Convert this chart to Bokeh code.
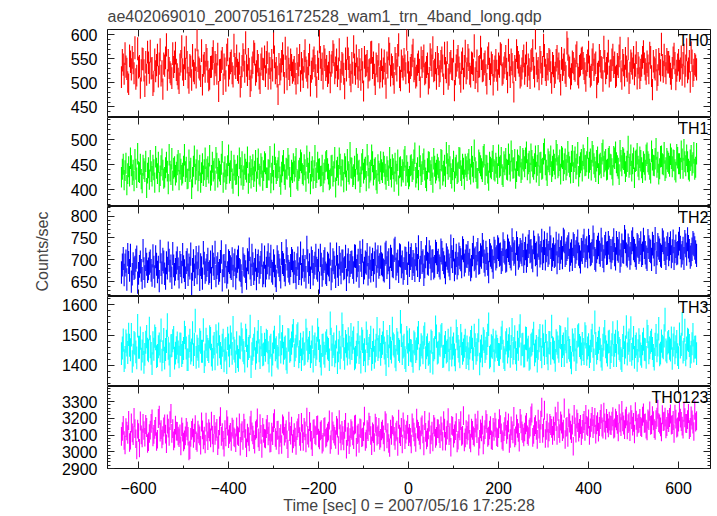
import numpy as np
from bokeh.plotting import figure
from bokeh.layouts import column
from bokeh.models import (SingleIntervalTicker, LinearAxis, Label, Range1d,
                          CustomJSTickFormatter)
from bokeh.embed import file_html
from bokeh.resources import INLINE

TITLE = "ae402069010_20070516172528_wam1_trn_4band_long.qdp"
XLABEL = "Time [sec] 0 = 2007/05/16 17:25:28"
YLABEL = "Counts/sec"

# light-curve bins: "even" bins start at -638 s, "odd" bins at -636 s, each every 4 s
even_start = -638.0
odd_start = -636.0
bin_step = 4.0

th0_even = [
    512, 538, 561, 529, 497, 544, 553, 520, 508, 571, 535, 526, 549, 493, 517, 542,
    566, 531, 503, 524, 558, 540, 515, 487, 536, 579, 547, 522, 510, 533, 562, 518,
    499, 545, 528, 552, 574, 511, 537, 506, 525, 548, 590, 532, 514, 496, 541, 557,
    523, 508, 534, 565, 543, 519, 482, 527, 551, 538, 504, 569, 530, 546, 513, 539,
    556, 521, 492, 535, 547, 583, 516, 529, 505, 542, 560, 524, 537, 499, 550, 528,
    514, 563, 540, 509, 526, 554, 531, 476, 518, 545, 536, 572, 507, 529, 548, 521,
    533, 498, 520, 557, 541, 512, 567, 525, 539, 494, 530, 552, 516, 544, 586, 527,
    509, 548, 535, 521, 501, 543, 558, 532, 514, 569, 523, 538, 488, 526, 550, 517,
    541, 575, 519, 530, 547, 506, 522, 553, 537, 511, 528, 564, 542, 497, 535, 559,
    524, 513, 546, 489, 532, 560, 538, 518, 551, 526, 579, 505, 534, 549, 520, 543,
    502, 537, 568, 529, 515, 544, 491, 533, 556, 521, 540, 511, 548, 573, 527, 508,
    539, 524, 552, 497, 531, 563, 517, 545, 528, 484, 536, 555, 519, 542, 509, 566,
    530, 548, 513, 540, 577, 522, 503, 535, 550, 526, 544, 498, 561, 518, 537, 525,
    547, 506, 534, 558, 520, 541, 529, 568, 512, 539, 481, 527, 553, 536, 515, 545,
    519, 562, 538, 510, 549, 531, 594, 524, 507, 543, 533, 557, 516, 528, 546, 500,
    535, 521, 555, 540, 496, 527, 548, 514, 570, 532, 518, 541, 525, 563, 511, 538,
    552, 529, 504, 546, 534, 517, 559, 538, 490, 523, 545, 531, 574, 520, 540, 513,
    526, 558, 542, 515, 533, 572, 508, 537, 551, 525, 499, 546, 530, 518, 563, 541,
    510, 536, 565, 528, 544, 520, 553, 486, 532, 547, 516, 539, 580, 523, 535, 549,
    543, 519, 531, 560, 507, 538, 525, 554, 541, 513, 569, 530, 502, 546, 527, 536,
]
th0_odd = [
    547, 519, 534, 502, 556, 528, 541, 573, 515, 532, 489, 550, 526, 543, 564, 521,
    530, 495, 548, 537, 513, 569, 524, 540, 552, 506, 531, 518, 561, 544, 527, 509,
    538, 575, 516, 529, 543, 500, 534, 557, 520, 511, 546, 528, 567, 536, 523, 549,
    505, 533, 551, 518, 537, 560, 526, 544, 497, 530, 558, 515, 541, 520, 578, 531,
    527, 540, 512, 559, 523, 536, 549, 493, 532, 565, 517, 545, 509, 538, 529, 554,
    543, 508, 531, 547, 585, 520, 513, 539, 528, 561, 500, 534, 552, 516, 537, 526,
    519, 550, 537, 504, 528, 545, 532, 511, 558, 523, 546, 535, 491, 529, 553, 540,
    555, 527, 514, 543, 536, 565, 520, 548, 530, 507, 541, 519, 550, 572, 533, 503,
    521, 538, 556, 512, 528, 549, 483, 535, 545, 526, 563, 531, 517, 540, 524, 511,
    548, 530, 519, 542, 571, 515, 533, 500, 539, 557, 512, 546, 528, 536, 591, 522,
    531, 556, 524, 511, 538, 527, 552, 545, 518, 533, 498, 559, 536, 524, 541, 553,
    514, 545, 536, 562, 522, 508, 541, 529, 566, 518, 547, 532, 502, 550, 535, 520,
    557, 519, 542, 527, 510, 546, 533, 574, 524, 539, 516, 552, 529, 542, 496, 534,
    525, 540, 561, 517, 532, 555, 501, 537, 548, 522, 535, 567, 543, 511, 530, 556,
    536, 514, 528, 546, 567, 513, 540, 531, 553, 519, 578, 527, 539, 549, 522, 541,
    512, 547, 530, 524, 551, 538, 521, 583, 536, 509, 544, 529, 556, 518, 535, 550,
    541, 520, 537, 564, 513, 548, 527, 542, 519, 557, 533, 504, 545, 531, 566, 525,
    548, 533, 512, 539, 556, 524, 547, 515, 534, 571, 521, 540, 553, 536, 509, 532,
    527, 553, 540, 519, 536, 562, 514, 545, 528, 506, 549, 526, 537, 558, 520, 543,
    534, 508, 552, 541, 525, 547, 530, 517, 558, 536, 522, 545, 563, 514, 539, 528,
]

th1_even = [
    425, 451, 438, 409, 446, 463, 430, 417, 441, 472, 434, 421, 449, 436, 403, 444,
    458, 427, 440, 466, 432, 415, 448, 439, 425, 455, 411, 437, 462, 443, 429, 450,
    419, 441, 433, 470, 445, 422, 436, 401, 447, 431, 459, 438, 414, 452, 440, 426,
    446, 468, 429, 437, 418, 453, 442, 430, 476, 435, 420, 448, 433, 457, 412, 439,
    431, 407, 444, 456, 428, 441, 465, 434, 423, 450, 437, 416, 461, 427, 445, 438,
    452, 424, 439, 413, 447, 471, 432, 444, 426, 435, 458, 420, 441, 449, 405, 434,
    437, 462, 418, 443, 454, 429, 440, 467, 433, 411, 446, 438, 424, 455, 442, 428,
    415, 440, 458, 431, 422, 449, 436, 404, 445, 463, 427, 439, 452, 418, 436, 474,
    443, 430, 421, 451, 439, 426, 460, 441, 417, 448, 435, 469, 429, 444, 412, 437,
    456, 434, 447, 420, 438, 464, 425, 442, 453, 431, 408, 446, 440, 459, 428, 435,
    427, 450, 441, 473, 433, 419, 448, 436, 461, 424, 442, 455, 430, 414, 447, 439,
    444, 421, 458, 437, 426, 452, 468, 432, 440, 416, 449, 435, 463, 428, 443, 451,
    438, 460, 431, 447, 479, 436, 423, 454, 442, 466, 430, 448, 418, 445, 457, 440,
    453, 432, 445, 464, 426, 450, 441, 471, 437, 458, 444, 422, 459, 447, 434, 462,
    446, 475, 452, 433, 458, 441, 467, 449, 428, 455, 443, 481, 439, 461, 450, 436,
    459, 442, 470, 448, 431, 463, 452, 440, 476, 446, 457, 434, 465, 451, 427, 454,
    437, 462, 449, 484, 455, 439, 468, 445, 458, 432, 453, 472, 447, 460, 441, 466,
    450, 429, 463, 454, 443, 478, 448, 461, 436, 457, 445, 469, 452, 424, 459, 447,
    465, 444, 456, 439, 473, 451, 433, 460, 448, 482, 455, 442, 467, 450, 438, 462,
    453, 471, 446, 458, 435, 464, 452, 477, 443, 456, 469, 441, 459, 449, 474, 445,
]
th1_odd = [
    441, 419, 453, 432, 427, 448, 439, 460, 424, 436, 451, 413, 442, 457, 433, 420,
    436, 449, 414, 443, 455, 428, 461, 422, 444, 437, 470, 430, 418, 446, 435, 458,
    452, 429, 447, 436, 421, 459, 443, 425, 467, 440, 417, 449, 434, 428, 463, 441,
    433, 418, 455, 442, 464, 425, 437, 451, 414, 446, 432, 469, 438, 422, 449, 430,
    448, 463, 429, 420, 451, 435, 412, 447, 440, 426, 458, 443, 431, 452, 418, 456,
    424, 440, 466, 433, 419, 445, 438, 457, 410, 448, 430, 443, 462, 425, 439, 452,
    446, 421, 438, 459, 432, 450, 416, 443, 455, 437, 422, 468, 434, 441, 427, 449,
    433, 456, 442, 419, 448, 427, 464, 438, 429, 451, 440, 415, 446, 460, 431, 444,
    426, 447, 462, 437, 414, 452, 433, 445, 470, 423, 439, 456, 441, 419, 450, 432,
    440, 455, 431, 446, 428, 441, 450, 416, 437, 459, 444, 427, 435, 466, 448, 421,
    448, 436, 459, 425, 444, 467, 430, 452, 439, 417, 456, 438, 445, 462, 433, 451,
    437, 460, 429, 449, 474, 441, 446, 423, 457, 444, 432, 464, 438, 451, 420, 446,
    452, 441, 466, 435, 444, 423, 459, 448, 436, 470, 449, 433, 455, 442, 468, 437,
    445, 469, 448, 430, 456, 462, 439, 451, 477, 443, 460, 436, 449, 466, 441, 458,
    463, 440, 457, 471, 446, 452, 435, 468, 454, 441, 472, 450, 428, 456, 467, 447,
    451, 478, 444, 459, 466, 438, 461, 449, 455, 433, 468, 457, 442, 474, 446, 460,
    469, 448, 456, 443, 461, 476, 452, 436, 465, 450, 444, 479, 456, 439, 462, 451,
    442, 466, 475, 448, 430, 458, 464, 453, 447, 486, 451, 437, 463, 457, 472, 440,
    458, 434, 451, 469, 456, 441, 477, 449, 462, 445, 431, 466, 452, 474, 444, 457,
    447, 463, 459, 440, 470, 452, 443, 461, 480, 448, 456, 437, 468, 454, 441, 472,
]

th2_even = [
    671, 703, 688, 655, 694, 710, 667, 680, 699, 648, 685, 676, 721, 662, 690, 679,
    697, 664, 683, 707, 672, 651, 689, 701, 668, 693, 715, 674, 659, 686, 678, 704,
    660, 687, 712, 675, 694, 666, 681, 645, 698, 684, 670, 706, 689, 657, 692, 677,
    701, 673, 658, 690, 717, 682, 669, 696, 653, 687, 709, 671, 694, 680, 663, 699,
    684, 706, 675, 649, 688, 673, 700, 724, 666, 691, 678, 656, 697, 683, 711, 670,
    663, 693, 681, 708, 669, 686, 652, 695, 677, 714, 689, 665, 702, 674, 687, 698,
    692, 658, 704, 680, 667, 699, 685, 728, 671, 659, 696, 683, 710, 676, 648, 690,
    679, 702, 666, 688, 713, 674, 693, 661, 685, 705, 670, 697, 682, 654, 700, 687,
    695, 671, 708, 686, 662, 699, 720, 681, 692, 667, 704, 689, 676, 713, 697, 683,
    706, 688, 674, 717, 693, 659, 701, 684, 726, 690, 673, 709, 695, 680, 703, 668,
    687, 711, 696, 675, 702, 729, 683, 694, 666, 707, 692, 718, 679, 698, 685, 714,
    699, 681, 716, 693, 670, 704, 688, 731, 696, 677, 710, 691, 705, 684, 721, 697,
    708, 690, 677, 712, 700, 685, 723, 694, 706, 719, 688, 703, 672, 711, 698, 726,
    702, 729, 711, 694, 736, 716, 699, 722, 707, 745, 713, 690, 725, 709, 718, 733,
    714, 697, 731, 719, 706, 740, 712, 688, 727, 716, 703, 738, 721, 710, 749, 701,
    724, 711, 693, 733, 718, 705, 742, 715, 729, 699, 720, 736, 708, 726, 713, 695,
    717, 744, 722, 707, 730, 714, 751, 703, 719, 735, 711, 724, 698, 737, 716, 728,
    705, 726, 712, 739, 720, 697, 733, 718, 742, 709, 725, 714, 747, 721, 704, 731,
    723, 710, 746, 716, 701, 729, 719, 737, 712, 694, 734, 722, 708, 740, 715, 727,
    712, 738, 720, 703, 731, 716, 748, 709, 726, 741, 713, 730, 706, 724, 735, 718,
]
th2_odd = [
    688, 665, 697, 712, 676, 650, 691, 683, 706, 669, 695, 658, 680, 701, 673, 692,
    676, 709, 662, 690, 683, 719, 670, 695, 657, 681, 699, 686, 714, 667, 693, 679,
    694, 672, 684, 659, 700, 688, 713, 678, 666, 705, 691, 654, 682, 716, 671, 687,
    669, 695, 707, 680, 663, 691, 676, 718, 686, 672, 660, 698, 684, 702, 689, 657,
    697, 678, 664, 702, 685, 657, 693, 681, 710, 668, 699, 687, 671, 694, 663, 706,
    681, 711, 690, 674, 698, 663, 707, 687, 660, 694, 676, 720, 685, 669, 703, 672,
    673, 689, 668, 715, 684, 676, 660, 698, 689, 704, 667, 692, 681, 699, 710, 664,
    696, 670, 692, 677, 656, 700, 683, 713, 666, 690, 697, 679, 708, 688, 672, 694,
    682, 709, 676, 699, 717, 687, 670, 695, 712, 683, 674, 701, 693, 662, 707, 689,
    691, 677, 713, 682, 700, 708, 686, 722, 679, 697, 711, 684, 669, 704, 692, 715,
    703, 680, 689, 712, 687, 675, 716, 698, 684, 725, 690, 706, 697, 681, 719, 694,
    686, 722, 701, 684, 711, 697, 679, 707, 723, 692, 681, 713, 700, 727, 688, 709,
    716, 699, 685, 728, 704, 714, 692, 711, 734, 697, 717, 690, 721, 706, 683, 719,
    707, 724, 713, 700, 720, 697, 731, 715, 702, 725, 718, 738, 704, 723, 712, 696,
    726, 710, 741, 721, 698, 728, 715, 733, 709, 744, 719, 702, 735, 716, 729, 711,
    708, 737, 719, 703, 727, 746, 710, 724, 736, 713, 701, 732, 718, 742, 707, 723,
    731, 709, 727, 744, 712, 720, 735, 699, 728, 717, 746, 708, 730, 715, 739, 721,
    720, 745, 702, 725, 737, 711, 719, 752, 713, 733, 704, 740, 726, 710, 734, 717,
    738, 715, 729, 706, 743, 722, 701, 730, 748, 714, 727, 711, 745, 724, 703, 736,
    725, 707, 742, 719, 714, 737, 728, 716, 703, 733, 747, 721, 712, 739, 727, 710,
]

th3_even = [
    1438, 1483, 1426, 1467, 1502, 1451, 1412, 1475, 1444, 1531, 1459, 1420, 1472, 1436, 1495, 1448,
    1461, 1405, 1453, 1488, 1432, 1470, 1516, 1445, 1423, 1479, 1456, 1398, 1465, 1491, 1440, 1473,
    1427, 1469, 1442, 1509, 1457, 1418, 1482, 1450, 1435, 1548, 1463, 1429, 1476, 1446, 1411, 1486,
    1452, 1494, 1433, 1460, 1421, 1477, 1503, 1439, 1466, 1414, 1455, 1489, 1431, 1470, 1524, 1447,
    1474, 1416, 1458, 1484, 1441, 1499, 1430, 1462, 1395, 1453, 1487, 1443, 1511, 1425, 1468, 1437,
    1449, 1478, 1413, 1466, 1437, 1492, 1458, 1423, 1527, 1471, 1440, 1460, 1409, 1483, 1451, 1497,
    1432, 1463, 1504, 1445, 1418, 1474, 1439, 1486, 1456, 1428, 1493, 1461, 1435, 1517, 1448, 1403,
    1467, 1429, 1481, 1452, 1539, 1434, 1470, 1444, 1408, 1476, 1459, 1498, 1422, 1464, 1487, 1440,
    1455, 1490, 1426, 1468, 1442, 1410, 1479, 1451, 1506, 1437, 1465, 1419, 1483, 1447, 1521, 1461,
    1436, 1473, 1457, 1401, 1462, 1495, 1443, 1470, 1429, 1485, 1452, 1544, 1438, 1466, 1415, 1477,
    1484, 1447, 1412, 1471, 1454, 1508, 1433, 1460, 1492, 1425, 1467, 1441, 1480, 1406, 1458, 1496,
    1443, 1466, 1501, 1430, 1475, 1448, 1417, 1489, 1457, 1434, 1513, 1462, 1427, 1471, 1450, 1482,
    1460, 1421, 1478, 1453, 1499, 1439, 1468, 1404, 1463, 1487, 1445, 1472, 1536, 1431, 1459, 1414,
    1477, 1452, 1435, 1490, 1446, 1418, 1484, 1464, 1429, 1518, 1455, 1441, 1476, 1497, 1437, 1469,
    1431, 1488, 1459, 1423, 1470, 1505, 1447, 1413, 1481, 1452, 1496, 1438, 1465, 1421, 1474, 1528,
    1454, 1416, 1473, 1446, 1491, 1462, 1432, 1478, 1519, 1449, 1407, 1467, 1485, 1443, 1500, 1458,
    1472, 1438, 1494, 1457, 1428, 1481, 1463, 1542, 1440, 1476, 1451, 1419, 1487, 1461, 1433, 1479,
    1445, 1507, 1466, 1432, 1474, 1449, 1415, 1492, 1460, 1437, 1483, 1523, 1454, 1426, 1470, 1448,
    1463, 1429, 1486, 1451, 1512, 1441, 1476, 1455, 1420, 1498, 1467, 1434, 1480, 1458, 1551, 1444,
    1478, 1450, 1422, 1489, 1461, 1435, 1503, 1469, 1443, 1515, 1457, 1482, 1428, 1471, 1447, 1460,
]
th3_odd = [
    1457, 1415, 1480, 1442, 1466, 1501, 1433, 1471, 1424, 1459, 1490, 1447, 1409, 1476, 1453, 1522,
    1439, 1474, 1496, 1428, 1461, 1447, 1417, 1485, 1452, 1533, 1437, 1464, 1481, 1423, 1458, 1444,
    1470, 1432, 1455, 1491, 1418, 1463, 1440, 1507, 1469, 1426, 1453, 1484, 1446, 1517, 1434, 1462,
    1445, 1488, 1419, 1472, 1497, 1436, 1461, 1425, 1482, 1450, 1408, 1467, 1493, 1439, 1456, 1411,
    1428, 1460, 1503, 1449, 1413, 1482, 1455, 1528, 1438, 1466, 1422, 1476, 1448, 1491, 1434, 1469,
    1482, 1441, 1459, 1400, 1477, 1451, 1429, 1468, 1443, 1495, 1456, 1421, 1485, 1446, 1473, 1514,
    1451, 1497, 1427, 1469, 1454, 1436, 1515, 1448, 1475, 1444, 1413, 1470, 1456, 1489, 1430, 1465,
    1440, 1473, 1457, 1418, 1486, 1462, 1431, 1494, 1448, 1424, 1536, 1453, 1478, 1437, 1459, 1501,
    1476, 1421, 1443, 1508, 1460, 1487, 1435, 1414, 1479, 1455, 1492, 1442, 1426, 1466, 1452, 1484,
    1462, 1508, 1440, 1478, 1431, 1456, 1522, 1464, 1417, 1473, 1446, 1499, 1460, 1425, 1491, 1435,
    1449, 1432, 1477, 1445, 1490, 1421, 1468, 1441, 1504, 1458, 1436, 1412, 1475, 1451, 1526, 1440,
    1471, 1496, 1428, 1461, 1443, 1482, 1456, 1433, 1470, 1417, 1488, 1447, 1498, 1439, 1463, 1425,
    1438, 1457, 1492, 1422, 1468, 1451, 1515, 1447, 1431, 1479, 1456, 1499, 1426, 1464, 1482, 1450,
    1463, 1436, 1458, 1509, 1425, 1474, 1443, 1487, 1462, 1440, 1494, 1419, 1453, 1530, 1468, 1430,
    1490, 1450, 1419, 1466, 1482, 1434, 1462, 1456, 1498, 1427, 1468, 1512, 1441, 1475, 1439, 1458,
    1443, 1481, 1460, 1495, 1432, 1470, 1487, 1444, 1458, 1426, 1483, 1450, 1418, 1496, 1465, 1437,
    1452, 1504, 1436, 1468, 1446, 1499, 1418, 1472, 1455, 1489, 1430, 1466, 1511, 1444, 1477, 1425,
    1468, 1432, 1479, 1510, 1455, 1422, 1465, 1441, 1527, 1473, 1449, 1436, 1491, 1462, 1416, 1484,
    1437, 1471, 1453, 1426, 1495, 1458, 1482, 1432, 1469, 1448, 1521, 1440, 1463, 1497, 1450, 1474,
    1456, 1490, 1467, 1441, 1478, 1425, 1460, 1537, 1452, 1434, 1486, 1465, 1443, 1501, 1459, 1438,
]

th0123_even = [
    3092, 3158, 3041, 3124, 3187, 3069, 3113, 3205, 3078, 3136, 3022, 3101, 3170, 3087, 3145, 3060,
    3129, 3196, 3104, 3152, 3075, 3218, 3133, 3097, 3167, 3048, 3141, 3186, 3110, 3065, 3159, 3122,
    3084, 3035, 3117, 3071, 3146, 3093, 3011, 3128, 3080, 3162, 3056, 3107, 3039, 3131, 3094, 3177,
    3066, 3119, 3183, 3052, 3098, 3140, 3074, 3210, 3115, 3027, 3088, 3154, 3103, 3061, 3135, 3082,
    3148, 3090, 3033, 3126, 3171, 3079, 3112, 3058, 3189, 3100, 3045, 3137, 3083, 3168, 3019, 3109,
    3077, 3163, 3121, 3054, 3096, 3198, 3068, 3130, 3086, 3043, 3155, 3111, 3072, 3182, 3099, 3050,
    3114, 3038, 3143, 3091, 3176, 3062, 3125, 3207, 3081, 3117, 3029, 3138, 3095, 3160, 3070, 3132,
    3057, 3150, 3089, 3123, 3044, 3179, 3106, 3073, 3142, 3191, 3064, 3097, 3134, 3015, 3118, 3085,
    3127, 3072, 3165, 3102, 3049, 3139, 3088, 3213, 3076, 3120, 3157, 3036, 3108, 3171, 3093, 3146,
    3081, 3135, 3059, 3172, 3114, 3025, 3098, 3153, 3067, 3129, 3194, 3090, 3046, 3137, 3105, 3164,
    3110, 3047, 3144, 3089, 3200, 3122, 3071, 3161, 3034, 3116, 3085, 3178, 3101, 3058, 3148, 3093,
    3137, 3078, 3119, 3185, 3063, 3131, 3096, 3027, 3152, 3107, 3174, 3069, 3124, 3092, 3216, 3083,
    3099, 3166, 3052, 3128, 3087, 3143, 3188, 3075, 3118, 3040, 3133, 3170, 3094, 3156, 3066, 3121,
    3142, 3084, 3197, 3113, 3061, 3150, 3104, 3173, 3079, 3126, 3211, 3095, 3140, 3057, 3167, 3109,
    3118, 3176, 3091, 3147, 3232, 3103, 3162, 3074, 3135, 3189, 3110, 3248, 3128, 3081, 3169, 3140,
    3155, 3213, 3097, 3138, 3184, 3120, 3261, 3146, 3086, 3172, 3108, 3033, 3149, 3196, 3117, 3163,
    3134, 3187, 3222, 3150, 3098, 3176, 3139, 3205, 3161, 3117, 3193, 3148, 3236, 3129, 3170, 3183,
    3157, 3209, 3142, 3185, 3118, 3173, 3246, 3160, 3197, 3131, 3178, 3221, 3153, 3106, 3188, 3167,
    3199, 3144, 3231, 3172, 3125, 3186, 3158, 3215, 3139, 3192, 3254, 3166, 3118, 3180, 3207, 3151,
    3174, 3226, 3163, 3109, 3195, 3148, 3239, 3181, 3136, 3203, 3169, 3228, 3145, 3190, 3121, 3177,
]
th0123_odd = [
    3121, 3067, 3144, 3103, 3055, 3172, 3096, 3138, 3010, 3115, 3184, 3082, 3127, 3163, 3049, 3109,
    3170, 3088, 3134, 3061, 3199, 3117, 3076, 3148, 3105, 3166, 3091, 3228, 3139, 3080, 3123, 3094,
    3107, 3149, 3058, 3095, 3124, 3004, 3086, 3143, 3112, 3066, 3130, 3095, 3178, 3071, 3046, 3118,
    3138, 3083, 3100, 3164, 3121, 3036, 3155, 3092, 3069, 3133, 3192, 3078, 3116, 3147, 3089, 3054,
    3097, 3173, 3113, 3068, 3140, 3024, 3091, 3156, 3119, 3072, 3127, 3202, 3060, 3104, 3145, 3081,
    3139, 3094, 3051, 3117, 3174, 3085, 3128, 3040, 3109, 3166, 3093, 3132, 3017, 3120, 3153, 3076,
    3088, 3126, 3169, 3062, 3108, 3145, 3053, 3099, 3181, 3069, 3135, 3102, 3157, 3082, 3124, 3045,
    3146, 3081, 3112, 3190, 3071, 3125, 3093, 3158, 3037, 3107, 3128, 3064, 3176, 3091, 3042, 3139,
    3095, 3160, 3027, 3111, 3143, 3084, 3120, 3061, 3132, 3177, 3097, 3119, 3055, 3151, 3102, 3068,
    3124, 3101, 3186, 3077, 3049, 3136, 3162, 3093, 3118, 3031, 3106, 3145, 3178, 3072, 3129, 3090,
    3087, 3172, 3118, 3055, 3135, 3098, 3149, 3106, 3187, 3070, 3131, 3044, 3123, 3164, 3080, 3138,
    3108, 3155, 3063, 3141, 3097, 3204, 3115, 3158, 3081, 3126, 3052, 3140, 3186, 3099, 3059, 3132,
    3125, 3074, 3141, 3096, 3171, 3108, 3032, 3137, 3159, 3101, 3192, 3086, 3130, 3072, 3146, 3177,
    3090, 3138, 3162, 3071, 3120, 3183, 3131, 3049, 3154, 3107, 3082, 3166, 3115, 3199, 3125, 3088,
    3161, 3102, 3135, 3214, 3086, 3150, 3127, 3195, 3108, 3265, 3143, 3079, 3172, 3119, 3157, 3098,
    3122, 3180, 3242, 3109, 3166, 3135, 3073, 3151, 3201, 3129, 3160, 3222, 3111, 3175, 3140, 3096,
    3169, 3121, 3158, 3196, 3143, 3211, 3164, 3105, 3180, 3151, 3227, 3136, 3172, 3199, 3143, 3160,
    3183, 3136, 3201, 3164, 3227, 3150, 3179, 3133, 3213, 3168, 3120, 3192, 3176, 3239, 3146, 3171,
    3151, 3212, 3170, 3135, 3196, 3243, 3162, 3185, 3128, 3206, 3174, 3149, 3221, 3183, 3137, 3193,
    3205, 3159, 3187, 3224, 3142, 3178, 3201, 3153, 3236, 3170, 3192, 3132, 3214, 3165, 3249, 3185,
]

panel_names = ["TH0", "TH1", "TH2", "TH3", "TH0123"]
panel_series = [(th0_even, th0_odd), (th1_even, th1_odd), (th2_even, th2_odd),
                (th3_even, th3_odd), (th0123_even, th0123_odd)]
panel_colors = ["#ff0000", "#00ff00", "#0000ff", "#00ffff", "#ff00ff"]
panel_yranges = [(428, 611), (366, 545), (616, 822), (1329, 1628), (2900, 3390)]
panel_yintervals = [50, 50, 50, 100, 100]
x_range = (-669, 671)

FONT = "Liberation Sans"
FS = "16px"

t_even = even_start + bin_step * np.arange(len(th0_even))
t_odd = odd_start + bin_step * np.arange(len(th0_odd))
time = np.concatenate([t_even, t_odd])
xr = Range1d(*x_range)

frame_w = 603
border_left = 107
border_right = 5
frame_heights = [89, 89, 90, 90, 90]
top_first = 28
bottom_last = 40

minus_fmt = CustomJSTickFormatter(code="return String(tick).replace('-', '\u2212');")


def style_axis(ax, show_labels, standoff=5):
    ax.major_tick_in = 7
    ax.major_tick_out = 0
    ax.minor_tick_in = 3
    ax.minor_tick_out = 0
    ax.axis_line_color = None
    ax.major_tick_line_color = "#222222"
    ax.minor_tick_line_color = "#222222"
    ax.major_tick_line_width = 1
    ax.minor_tick_line_width = 1
    ax.major_label_text_font = FONT
    if show_labels:
        ax.major_label_text_font_size = FS
        ax.major_label_text_color = "#000000"
        ax.major_label_standoff = standoff
    else:
        ax.formatter = CustomJSTickFormatter(code="return '';")
        ax.major_label_text_font_size = "1px"
        ax.major_label_standoff = 0


figs = []
for i, (name, (ev, od), col, yr, yint) in enumerate(zip(panel_names, panel_series, panel_colors,
                                                        panel_yranges, panel_yintervals)):
    first = i == 0
    last = i == len(panel_names) - 1
    h = frame_heights[i] + (top_first if first else 0) + (bottom_last if last else 0)
    p = figure(width=border_left + frame_w + border_right, height=h,
               x_range=xr, y_range=Range1d(*yr),
               output_backend="svg", toolbar_location=None,
               min_border_left=border_left, min_border_right=border_right,
               min_border_top=top_first if first else 0,
               min_border_bottom=bottom_last if last else 0,
               x_axis_location="below")
    p.xgrid.visible = False
    p.ygrid.visible = False
    p.outline_line_color = "#111111"
    p.outline_line_width = 1
    p.background_fill_color = "white"
    p.border_fill_color = "white"

    y = np.array(list(ev) + list(od), dtype=float)
    err = np.sqrt(y)
    p.segment(x0=time, y0=y - err, x1=time, y1=y + err, line_color=col,
              line_alpha=1.0, line_width=1.1)

    xt = SingleIntervalTicker(interval=200, num_minor_ticks=2)
    yt = SingleIntervalTicker(interval=yint, num_minor_ticks=5)

    bx = p.xaxis[0]
    bx.ticker = xt
    style_axis(bx, last, standoff=13)
    if last:
        bx.formatter = minus_fmt
        bx.axis_label = XLABEL
        bx.axis_label_text_font = FONT
        bx.axis_label_text_font_size = FS
        bx.axis_label_text_font_style = "normal"
        bx.axis_label_standoff = 0

    ly = p.yaxis[0]
    ly.ticker = yt
    style_axis(ly, True, standoff=10)
    if name == "TH2":
        ly.axis_label = YLABEL
        ly.axis_label_text_font = FONT
        ly.axis_label_text_font_size = FS
        ly.axis_label_text_font_style = "normal"
        ly.axis_label_standoff = 17

    ax_top = LinearAxis(ticker=xt)
    style_axis(ax_top, False)
    p.add_layout(ax_top, "above")
    ax_right = LinearAxis(ticker=yt)
    style_axis(ax_right, False)
    p.add_layout(ax_right, "right")

    p.add_layout(Label(x=x_range[1], y=yr[1], x_offset=-2, y_offset=-2, text=name,
                       text_align="right", text_baseline="top",
                       text_font=FONT, text_font_size=FS, text_color="#000000"))

    if first:
        p.title.text = TITLE
        p.title.text_font = FONT
        p.title.text_font_size = FS
        p.title.text_font_style = "normal"
        p.title.align = "left"
        p.title.offset = 0
    figs.append(p)

layout = column(*figs, spacing=0)
open("out.html", "w").write(file_html(layout, INLINE))
